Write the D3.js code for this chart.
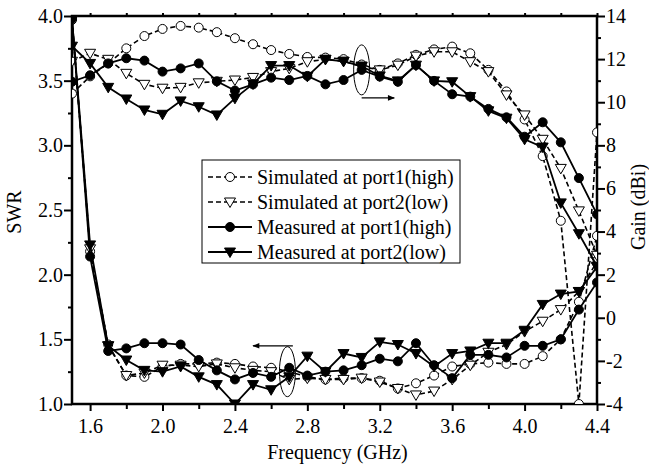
<!DOCTYPE html>
<html>
<head>
<meta charset="utf-8">
<script src="https://cdn.jsdelivr.net/npm/d3@7"></script>
<style>
  body { margin: 0; background: #fff; }
  svg { font-family: "Liberation Serif", "Times New Roman", serif; }
</style>
</head>
<body>
<svg width="649" height="470"></svg>
<script>
// frequency points (GHz)
const freq = [1.5, 1.6, 1.7, 1.8, 1.9, 2.0, 2.1, 2.2, 2.3, 2.4, 2.5, 2.6, 2.7, 2.8, 2.9,
              3.0, 3.1, 3.2, 3.3, 3.4, 3.5, 3.6, 3.7, 3.8, 3.9, 4.0, 4.1, 4.2, 4.3, 4.4];

// SWR (left axis)
const simP1Swr  = [3.97, 2.18, 1.46, 1.22, 1.21, 1.29, 1.31, 1.31, 1.32, 1.31, 1.29, 1.28, 1.25, 1.21, 1.19,
                   1.20, 1.20, 1.18, 1.12, 1.16, 1.22, 1.29, 1.31, 1.32, 1.31, 1.31, 1.37, 1.50, 1.79, 2.30];
const simP2Swr  = [3.97, 2.20, 1.45, 1.22, 1.24, 1.30, 1.30, 1.29, 1.31, 1.28, 1.26, 1.25, 1.19, 1.20, 1.19,
                   1.19, 1.20, 1.17, 1.12, 1.07, 1.10, 1.19, 1.30, 1.40, 1.46, 1.56, 1.64, 1.73, 1.87, 2.10];
const measP1Swr = [3.98, 2.14, 1.41, 1.43, 1.47, 1.47, 1.46, 1.34, 1.26, 1.19, 1.24, 1.21, 1.28, 1.22, 1.25,
                   1.26, 1.30, 1.35, 1.33, 1.47, 1.30, 1.20, 1.38, 1.38, 1.36, 1.45, 1.45, 1.50, 1.73, 1.94];
const measP2Swr = [3.98, 2.23, 1.45, 1.34, 1.26, 1.25, 1.29, 1.21, 1.15, 1.00, 1.15, 1.11, 1.21, 1.37, 1.25,
                   1.39, 1.36, 1.48, 1.46, 1.39, 1.29, 1.39, 1.41, 1.47, 1.47, 1.57, 1.77, 1.85, 1.87, 2.06];

// Gain in dBi (right axis)
const simP1Gain  = [10.4, 11.2, 11.8, 12.5, 13.07, 13.4, 13.54, 13.46, 13.25, 12.97, 12.69, 12.42, 12.24, 12.1, 12.07,
                    12.0, 11.75, 11.5, 11.8, 12.2, 12.45, 12.58, 12.27, 11.5, 10.5, 9.2, 7.5, 4.5, -4.0, 8.6];
const simP2Gain  = [11.9, 12.27, 11.99, 11.34, 10.83, 10.65, 10.69, 10.9, 10.97, 11.03, 11.15, 11.42, 11.57, 11.88, 11.99,
                    11.9, 11.65, 11.5, 11.72, 12.14, 12.34, 12.34, 11.88, 11.42, 10.34, 9.41, 8.28, 6.93, 4.96, 2.9];
const measP1Gain = [10.95, 11.25, 11.8, 12.04, 11.93, 11.42, 11.57, 11.8, 10.97, 10.54, 10.83, 11.14, 11.03, 11.22, 10.83,
                    11.03, 11.5, 11.19, 10.95, 11.72, 10.99, 10.37, 10.26, 9.69, 9.3, 8.4, 9.07, 8.14, 6.48, 4.8];
const measP2Gain = [12.6, 11.8, 10.69, 10.15, 9.64, 9.44, 10.06, 9.79, 9.41, 10.18, 10.85, 11.7, 11.7, 11.2, 11.99,
                    11.9, 11.68, 11.22, 10.99, 11.72, 10.99, 10.95, 10.26, 9.6, 9.26, 8.28, 7.92, 5.33, 3.9, 2.4];

// ticks
const xTicks = [1.6, 2.0, 2.4, 2.8, 3.2, 3.6, 4.0, 4.4];
const xMinor = [1.8, 2.2, 2.6, 3.0, 3.4, 3.8, 4.2];
const swrTicks = [1.0, 1.5, 2.0, 2.5, 3.0, 3.5, 4.0];
const swrMinor = [1.25, 1.75, 2.25, 2.75, 3.25, 3.75];
const gainTicks = [-4, -2, 0, 2, 4, 6, 8, 10, 12, 14];
const gainMinor = [-3, -1, 1, 3, 5, 7, 9, 11, 13];

const legendNames = ["Simulated at port1(high)", "Simulated at port2(low)",
                     "Measured at port1(high)", "Measured at port2(low)"];

const svg = d3.select("svg");
const mLeft = 72, mRight = 597, mTop = 16, mBottom = 404;

const x = d3.scaleLinear().domain([1.5, 4.4]).range([mLeft, mRight]);
const ySwr = d3.scaleLinear().domain([1, 4]).range([mBottom, mTop]);
const yGain = d3.scaleLinear().domain([-4, 14]).range([mBottom, mTop]);

svg.append("clipPath").attr("id", "plot")
  .append("rect").attr("x", mLeft).attr("y", mTop).attr("width", mRight - mLeft).attr("height", mBottom - mTop);

const font = "20px";

// axes
function styleAxis(g) {
  g.select(".domain").remove();
  g.selectAll(".tick line").attr("stroke", "#000").attr("stroke-width", 2);
  g.selectAll(".tick text").style("font-size", font).attr("fill", "#000")
    .style("font-family", "Liberation Serif");
}

svg.append("g").attr("transform", `translate(0,${mBottom})`)
  .call(d3.axisBottom(x).tickValues(xTicks).tickSize(7).tickPadding(8).tickFormat(d3.format(".1f")))
  .call(styleAxis);
svg.append("g").attr("transform", `translate(0,${mBottom})`)
  .call(d3.axisBottom(x).tickValues(xMinor).tickSize(5).tickFormat(""))
  .call(styleAxis);
svg.append("g").attr("transform", `translate(0,${mTop})`)
  .call(d3.axisTop(x).tickValues(xTicks.concat(xMinor)).tickSize(3).tickFormat(""))
  .call(styleAxis);

svg.append("g").attr("transform", `translate(${mLeft},0)`)
  .call(d3.axisLeft(ySwr).tickValues(swrTicks).tickSize(8).tickPadding(1).tickFormat(d3.format(".1f")))
  .call(styleAxis);
svg.append("g").attr("transform", `translate(${mLeft},0)`)
  .call(d3.axisLeft(ySwr).tickValues(swrMinor).tickSize(4).tickFormat(""))
  .call(styleAxis);

svg.append("g").attr("transform", `translate(${mRight},0)`)
  .call(d3.axisRight(yGain).tickValues(gainTicks).tickSize(8).tickPadding(1).tickFormat(d => d))
  .call(styleAxis);
svg.append("g").attr("transform", `translate(${mRight},0)`)
  .call(d3.axisRight(yGain).tickValues(gainMinor).tickSize(4).tickFormat(""))
  .call(styleAxis);

svg.append("rect")
  .attr("x", mLeft).attr("y", mTop).attr("width", mRight - mLeft).attr("height", mBottom - mTop)
  .attr("fill", "none").attr("stroke", "#000").attr("stroke-width", 2.5);

// axis titles
svg.append("text").text("Frequency (GHz)")
  .attr("x", (mLeft + mRight) / 2 + 3).attr("y", 459)
  .attr("text-anchor", "middle").style("font-size", font);
svg.append("text").text("SWR")
  .attr("transform", `translate(21,${(mTop + mBottom) / 2 + 2}) rotate(-90)`)
  .attr("text-anchor", "middle").style("font-size", font);
svg.append("text").text("Gain (dBi)")
  .attr("transform", `translate(645,${(mTop + mBottom) / 2 - 3}) rotate(-90)`)
  .attr("text-anchor", "middle").style("font-size", font);

// series
const series = [
  {swr: simP1Swr, gain: simP1Gain, marker: "circle", filled: false, dash: "5,3"},
  {swr: simP2Swr, gain: simP2Gain, marker: "tri", filled: false, dash: "5,3"},
  {swr: measP1Swr, gain: measP1Gain, marker: "circle", filled: true, dash: null},
  {swr: measP2Swr, gain: measP2Gain, marker: "tri", filled: true, dash: null}
];

const triPath = "M0,5.5L-5.5,-4L5.5,-4Z";

function drawMarker(g, marker, filled) {
  if (marker === "circle") {
    g.append("circle").attr("r", 4.5);
  } else {
    g.append("path").attr("d", triPath);
  }
  g.selectAll("circle,path")
    .attr("fill", filled ? "#000" : "#fff")
    .attr("stroke", "#000").attr("stroke-width", 1);
}

const plot = svg.append("g").attr("clip-path", "url(#plot)");

series.forEach(s => {
  [[s.swr, ySwr], [s.gain, yGain]].forEach(([vals, y]) => {
    const pts = freq.map((f, i) => [f, vals[i]]);
    const line = d3.line().x(d => x(d[0])).y(d => y(d[1]));
    plot.append("path").datum(pts)
      .attr("d", line)
      .attr("fill", "none").attr("stroke", "#000")
      .attr("stroke-width", s.dash ? 1.6 : 1.8)
      .attr("stroke-dasharray", s.dash);
    plot.selectAll(null).data(pts).enter().append("g")
      .attr("transform", d => `translate(${x(d[0])},${y(d[1])})`)
      .each(function () { drawMarker(d3.select(this), s.marker, s.filled); });
  });
});

// ellipses + arrows indicating the axis
svg.append("defs").append("marker")
  .attr("id", "arrow").attr("viewBox", "0 0 10 10").attr("refX", 9).attr("refY", 5)
  .attr("markerWidth", 9).attr("markerHeight", 7).attr("markerUnits", "userSpaceOnUse")
  .attr("orient", "auto")
  .append("path").attr("d", "M0,1L10,5L0,9Z").attr("fill", "#000");

svg.append("ellipse").attr("cx", x(3.1)).attr("cy", yGain(11.5)).attr("rx", 8).attr("ry", 25)
  .attr("fill", "none").attr("stroke", "#000").attr("stroke-width", 1);
svg.append("line").attr("x1", x(3.1)).attr("y1", yGain(10.2)).attr("x2", x(3.28)).attr("y2", yGain(10.2))
  .attr("stroke", "#000").attr("stroke-width", 1.2).attr("marker-end", "url(#arrow)");

svg.append("ellipse").attr("cx", x(2.69)).attr("cy", ySwr(1.25)).attr("rx", 8).attr("ry", 25)
  .attr("fill", "none").attr("stroke", "#000").attr("stroke-width", 1);
svg.append("line").attr("x1", x(2.72)).attr("y1", ySwr(1.45)).attr("x2", x(2.5)).attr("y2", ySwr(1.45))
  .attr("stroke", "#000").attr("stroke-width", 1.2).attr("marker-end", "url(#arrow)");

// legend
const lg = svg.append("g").attr("transform", "translate(202,160)");
lg.append("rect").attr("width", 258).attr("height", 103)
  .attr("fill", "#fff").attr("stroke", "#000").attr("stroke-width", 1);
series.forEach((s, i) => {
  const row = lg.append("g").attr("transform", `translate(0,${17 + i * 25})`);
  row.append("line").attr("x1", 6).attr("x2", 50)
    .attr("stroke", "#000").attr("stroke-width", s.dash ? 1.6 : 1.8)
    .attr("stroke-dasharray", s.dash);
  drawMarker(row.append("g").attr("transform", "translate(28,0)"), s.marker, s.filled);
  row.append("text").text(legendNames[i])
    .attr("x", 55).attr("dy", "0.35em").style("font-size", font);
});
</script>
</body>
</html>
